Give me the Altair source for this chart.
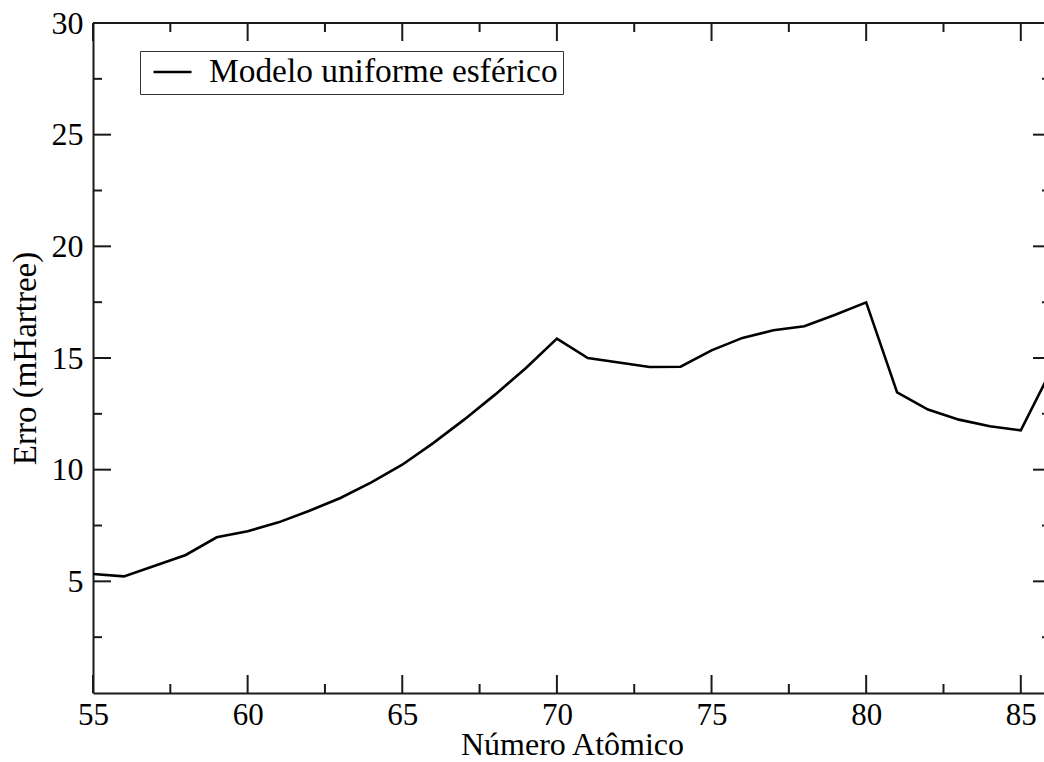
import altair as alt
import pandas as pd

# Atomic number and error of the spherical uniform model (mHartree)
numero_atomico = list(range(55, 87))
erro = [5.33, 5.22, 5.70, 6.18, 6.97, 7.24, 7.64, 8.16, 8.73, 9.43,
        10.22, 11.19, 12.24, 13.36, 14.55, 15.87, 15.00, 14.80, 14.60, 14.61,
        15.34, 15.90, 16.24, 16.42, 16.94, 17.49, 13.46, 12.69, 12.24, 11.94,
        11.76, 14.50]
serie = "Modelo uniforme esférico"

# Tick positions
x_major = [55, 60, 65, 70, 75, 80, 85]
x_minor = [57.5, 62.5, 67.5, 72.5, 77.5, 82.5]
y_major = [5, 10, 15, 20, 25, 30]
y_minor = [2.5, 7.5, 12.5, 17.5, 22.5, 27.5]

W, H = 951, 670
FONT = "Liberation Serif"
INK = "#1a1a1a"

df = pd.DataFrame({"z": numero_atomico, "erro": erro, "serie": serie})

xscale = alt.Scale(domain=[55, 85.75], nice=False, zero=False)
yscale = alt.Scale(domain=[0, 30], nice=False, zero=False)

line = alt.Chart(df).mark_line(color="black", strokeWidth=2.6, clip=True).encode(
    x=alt.X("z:Q", scale=xscale,
            axis=alt.Axis(title="Número Atômico", values=x_major, format="d",
                          ticks=False, tickSize=0, grid=False,
                          domainColor=INK, domainWidth=2,
                          labelFont=FONT, labelFontSize=31, labelColor="black",
                          labelPadding=7, labelFlush=False,
                          titleFont=FONT, titleFontSize=32, titleFontWeight="normal",
                          titleColor="black", titleBaseline="alphabetic",
                          titleX=479, titleY=61.5)),
    y=alt.Y("erro:Q", scale=yscale,
            axis=alt.Axis(title="Erro (mHartree)", values=y_major, format="d",
                          ticks=False, tickSize=0, grid=False,
                          domainColor=INK, domainWidth=2,
                          labelFont=FONT, labelFontSize=32, labelColor="black",
                          labelPadding=10, labelFlush=False,
                          titleFont=FONT, titleFontSize=33, titleFontWeight="normal",
                          titleColor="black", titlePadding=9)),
    color=alt.Color("serie:N", scale=alt.Scale(range=["black"]),
                    legend=alt.Legend(title=None, orient="none", legendX=47, legendY=28,
                                      strokeColor="#333333", fillColor="white",
                                      padding=5, symbolOffset=7, clipHeight=32,
                                      symbolType="stroke", symbolSize=1444,
                                      symbolStrokeWidth=2.6, symbolStrokeColor="black",
                                      labelFont=FONT, labelFontSize=33.4,
                                      labelColor="black", labelOffset=16,
                                      labelLimit=600)),
)


def xticks(values, y0, y1):
    return alt.Chart(pd.DataFrame({"v": values})).mark_rule(
        color=INK, strokeWidth=2).encode(
        x=alt.X("v:Q", scale=xscale), y=alt.value(y0), y2=alt.value(y1))


def yticks(values, x0, x1):
    return alt.Chart(pd.DataFrame({"v": values})).mark_rule(
        color=INK, strokeWidth=2).encode(
        y=alt.Y("v:Q", scale=yscale), x=alt.value(x0), x2=alt.value(x1))


# Inward ticks on all four sides of the frame
ticks = [
    xticks(x_major, H, H - 18), xticks(x_minor, H, H - 9),
    xticks(x_major, 0, 18), xticks(x_minor, 0, 9),
    yticks(y_major, 0, 18), yticks(y_minor, 0, 9),
    yticks(y_major, W, W - 11), yticks(y_minor, W, W - 2),
]

# Top edge of the frame
top = alt.Chart(pd.DataFrame({"v": [0]})).mark_rule(color=INK, strokeWidth=2).encode(
    y=alt.value(0), x=alt.value(0), x2=alt.value(W))

chart = alt.layer(top, *ticks, line).properties(
    width=W, height=H,
    autosize=alt.AutoSizeParams(type="none"),
    padding={"left": 93, "top": 23, "right": 0, "bottom": 69},
    background="white",
).configure_view(stroke=None).configure(font=FONT)

chart.save("out.html", embed_options={"renderer": "svg", "actions": False})
